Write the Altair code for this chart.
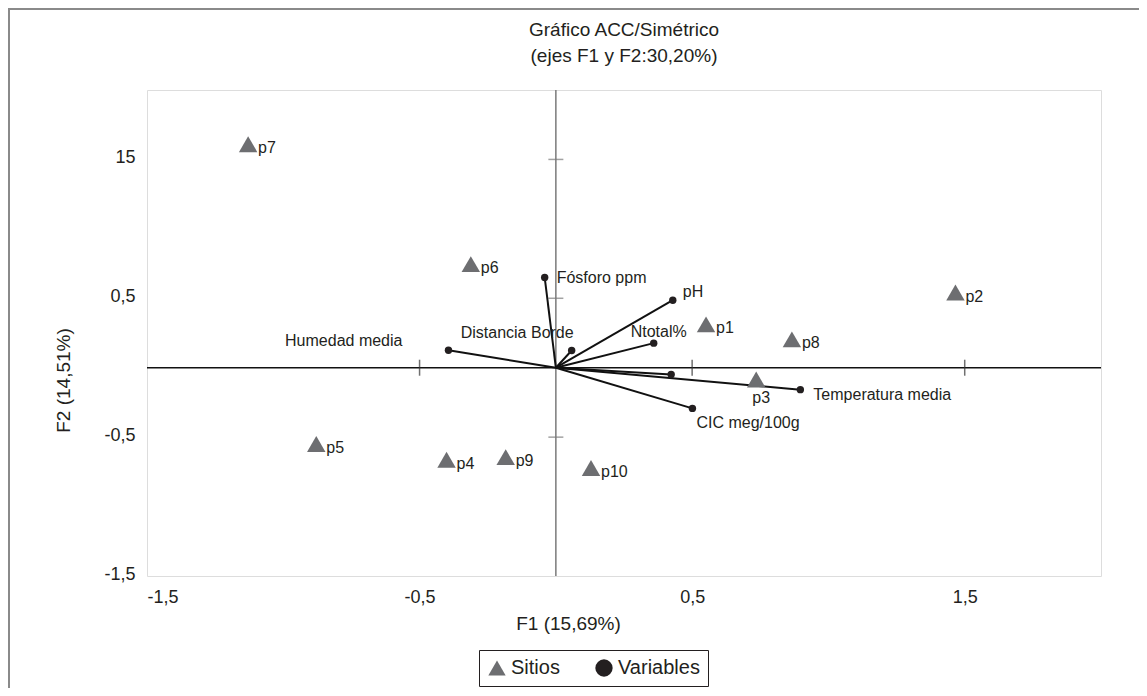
import altair as alt
import pandas as pd

# ---------------- data ----------------
sitios = ["p1", "p2", "p3", "p4", "p5", "p6", "p7", "p8", "p9", "p10"]
sitios_f1 = [0.551, 1.466, 0.735, -0.401, -0.879, -0.312, -1.129, 0.866, -0.184, 0.129]
sitios_f2 = [0.312, 0.541, -0.085, -0.663, -0.550, 0.746, 1.610, 0.204, -0.644, -0.723]

variables = ["Fósforo ppm", "pH", "Distancia Borde", "Ntotal%", "Humedad media",
             "", "Temperatura media", "CIC meg/100g"]
var_f1 = [-0.041, 0.429, 0.058, 0.359, -0.394, 0.423, 0.897, 0.501]
var_f2 = [0.650, 0.486, 0.124, 0.177, 0.126, -0.049, -0.158, -0.293]

x_ticks = [-1.5, -0.5, 0.5, 1.5]
x_tick_labels = ["-1,5", "-0,5", "0,5", "1,5"]
y_ticks = [-1.5, -0.5, 0.5, 1.5]
y_tick_labels = ["-1,5", "-0,5", "0,5", "15"]

title_lines = ["Gráfico ACC/Simétrico", "(ejes F1 y F2:30,20%)"]
x_title = "F1 (15,69%)"
y_title = "F2 (14,51%)"
legend_names = ["Sitios", "Variables"]
domain_min, domain_max = -1.5, 2.0

# ---------------- tables ----------------
df_s = pd.DataFrame({"name": sitios, "f1": sitios_f1, "f2": sitios_f2, "tipo": legend_names[0]})
df_v = pd.DataFrame({"name": variables, "f1": var_f1, "f2": var_f2, "tipo": legend_names[1]})
df_v["o1"] = 0.0
df_v["o2"] = 0.0

FONT = "Liberation Sans"
TXT = "#231f20"
GRAY = "#6d6e71"


def label_expr(vals, labs):
    expr = "''"
    for v, l in zip(vals, labs):
        expr = f"datum.value == {v} ? '{l}' : ({expr})"
    return expr


sx = alt.Scale(domain=[domain_min, domain_max], nice=False, zero=False)
sy = alt.Scale(domain=[domain_min, domain_max], nice=False, zero=False)
ax_x = alt.Axis(values=x_ticks, labelExpr=label_expr(x_ticks, x_tick_labels), ticks=False,
                domain=False, grid=False, labelFontSize=18, labelPadding=12, labelColor=TXT,
                labelFont=FONT, title=x_title, titleFontSize=19, titleFontWeight="normal",
                titleColor=TXT, titleFont=FONT, titleX=421, titleY=47, titleBaseline="middle",
                titleAlign="center")
ax_y = alt.Axis(values=y_ticks, labelExpr=label_expr(y_ticks, y_tick_labels), ticks=False,
                domain=False, grid=False, labelFontSize=18, labelPadding=12, labelColor=TXT,
                labelFont=FONT, labelOffset=-2, title=y_title, titleFontSize=19,
                titleFontWeight="normal", titleColor=TXT, titleFont=FONT, titleX=-84,
                titleY=290, titleBaseline="middle", titleAlign="center", titleAngle=270)


def ex(f):
    return alt.X(f"{f}:Q", scale=sx, axis=ax_x, title=x_title)


def ey(f):
    return alt.Y(f"{f}:Q", scale=sy, axis=ax_y, title=y_title)


legend = alt.Legend(orient="none", legendX=332, legendY=560, direction="horizontal", title=None,
                    strokeColor=TXT, padding=8, labelFontSize=20, labelFont=FONT, labelColor=TXT,
                    symbolSize=300, labelOffset=4, columnPadding=34, symbolStrokeWidth=0,
                    fillColor="white")
color_enc = alt.Color("tipo:N", scale=alt.Scale(domain=legend_names, range=[GRAY, TXT]), legend=legend)
shape_enc = alt.Shape("tipo:N", scale=alt.Scale(domain=legend_names, range=["triangle-up", "circle"]),
                      legend=legend)

# outer frame of the figure (decoration)
frame = alt.Chart(alt.Data(values=[{"a": 1}])).mark_rect(
    fill="transparent", stroke="#8a8a8a", strokeWidth=2
).encode(x=alt.value(-138), y=alt.value(-81), x2=alt.value(3000), y2=alt.value(3000))

# central axes
df_vline = pd.DataFrame({"c": [0.0], "a": [domain_min], "b": [domain_max]})
vline = alt.Chart(df_vline).mark_rule(color="#7a7a7a", strokeWidth=1.5).encode(
    x=ex("c"), y=ey("a"), y2=alt.Y2("b"))
hline = alt.Chart(df_vline).mark_rule(color="#111111", strokeWidth=1.5).encode(
    y=ey("c"), x=ex("a"), x2=alt.X2("b"))

df_vt = pd.DataFrame({"c": 0.0, "v": [v for v in y_ticks if v > domain_min]})
vticks = alt.Chart(df_vt).mark_tick(orient="horizontal", size=15, thickness=1.5, color="#7a7a7a").encode(
    x=ex("c"), y=ey("v"))
df_ht = pd.DataFrame({"c": 0.0, "v": [v for v in x_ticks if v > domain_min]})
hticks = alt.Chart(df_ht).mark_tick(orient="vertical", size=16, thickness=1.5, color="#333333").encode(
    x=ex("v"), y=ey("c"))

# vectors
vectors = alt.Chart(df_v).mark_rule(color="#111111", strokeWidth=2).encode(
    x=ex("o1"), y=ey("o2"), x2=alt.X2("f1"), y2=alt.Y2("f2"))

tri = alt.Chart(df_s).mark_point(filled=True, size=340, opacity=1).encode(
    x=ex("f1"), y=ey("f2"), color=color_enc, shape=shape_enc)
dots = alt.Chart(df_v).mark_point(filled=True, size=55, opacity=1).encode(
    x=ex("f1"), y=ey("f2"), color=color_enc, shape=shape_enc)


def text_layer(df, names, align, dx, dy, exclude=False):
    base = alt.Chart(df)
    if exclude:
        base = base.transform_filter(~alt.FieldOneOfPredicate(field="name", oneOf=names))
    else:
        base = base.transform_filter(alt.FieldOneOfPredicate(field="name", oneOf=names))
    return base.mark_text(align=align, baseline="middle", dx=dx, dy=dy, fontSize=16,
                          font=FONT, color=TXT).encode(x=ex("f1"), y=ey("f2"), text="name:N")


labels = [
    text_layer(df_s, ["p3"], "left", 10, 4, exclude=True),
    text_layer(df_s, ["p3"], "center", 5, 18),
    text_layer(df_v, ["Fósforo ppm"], "left", 12, 1),
    text_layer(df_v, ["pH"], "left", 10, -8),
    text_layer(df_v, ["Distancia Borde"], "right", 2, -17),
    text_layer(df_v, ["Ntotal%"], "left", -23, -11),
    text_layer(df_v, ["Humedad media"], "right", -46, -9),
    text_layer(df_v, ["Temperatura media"], "left", 13, 5),
    text_layer(df_v, ["CIC meg/100g"], "left", 4, 15),
]

chart = alt.layer(frame, vline, hline, vticks, hticks, vectors, tri, dots, *labels).properties(
    width=954, height=486,
    title=alt.TitleParams(text=title_lines, fontSize=19, fontWeight="normal", anchor="middle",
                          offset=20, dy=78, lineHeight=26, color=TXT, font=FONT),
    autosize=alt.AutoSizeParams(type="none"),
    padding={"left": 139, "top": 82, "right": 38, "bottom": 112},
).configure_view(stroke="#666666", strokeWidth=1.5).configure(font=FONT)

chart.save("out.html", embed_options={"renderer": "svg", "actions": False})
